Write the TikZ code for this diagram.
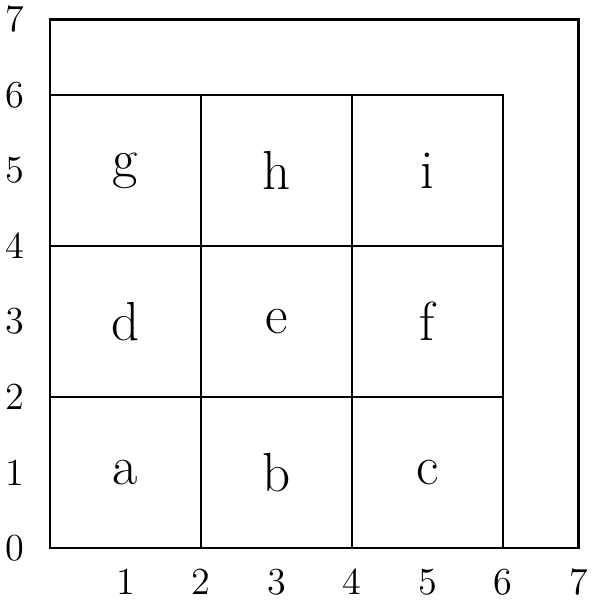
\documentclass[tikz,border=0pt]{standalone}
\usepackage{tikz}

\begin{document}
\begin{tikzpicture}[font=\rmfamily,
  lbl/.style={font=\Large\rmfamily},
  cell/.style={font=\huge\rmfamily},
  seg/.style={line width=0.9pt,line cap=round},
]
\useasboundingbox (-0.662,-0.715) rectangle (7.272,7.258);

% ============================================================
% Outer square and 3x3 grid
% ============================================================
\begin{scope}
  \def\W{7}
  \def\G{6}

  % Outer border
  \draw[seg] (0,0) rectangle (\W,\W);

  % Top edge of the grid
  \draw[seg] (0,\G) -- (\G,\G);

  % Horizontal grid lines
  \draw[seg] (0,2) -- (\G,2);
  \draw[seg] (0,4) -- (\G,4);

  % Vertical grid lines
  \draw[seg] (2,0) -- (2,\G);
  \draw[seg] (4,0) -- (4,\G);
  \draw[seg] (\G,0) -- (\G,\G);

  % Cell names
  \node[cell] (ca) at (1,1) {a};
  \node[cell] (cb) at (3,1) {b};
  \node[cell] (cc) at (5,1) {c};
  \node[cell] (cd) at (1,3) {d};
  \node[cell] (ce) at (3,3) {e};
  \node[cell] (cf) at (5,3) {f};
  \node[cell] (cg) at (1,5) {g};
  \node[cell] (ch) at (3,5) {h};
  \node[cell] (ci) at (5,5) {i};
\end{scope}

% ============================================================
% Axis numbers
% ============================================================
\begin{scope}
  \def\xl{-0.46}
  \def\yl{-0.45}

  % Left column
  \node[lbl] (y0) at (\xl,0) {0};
  \node[lbl] (y1) at (\xl,1) {1};
  \node[lbl] (y2) at (\xl,2) {2};
  \node[lbl] (y3) at (\xl,3) {3};
  \node[lbl] (y4) at (\xl,4) {4};
  \node[lbl] (y5) at (\xl,5) {5};
  \node[lbl] (y6) at (\xl,6) {6};
  \node[lbl] (y7) at (\xl,7) {7};

  % Bottom row
  \node[lbl] (x1) at (1,\yl) {1};
  \node[lbl] (x2) at (2,\yl) {2};
  \node[lbl] (x3) at (3,\yl) {3};
  \node[lbl] (x4) at (4,\yl) {4};
  \node[lbl] (x5) at (5,\yl) {5};
  \node[lbl] (x6) at (6,\yl) {6};
  \node[lbl] (x7) at (7,\yl) {7};
\end{scope}

\end{tikzpicture}
\end{document}
